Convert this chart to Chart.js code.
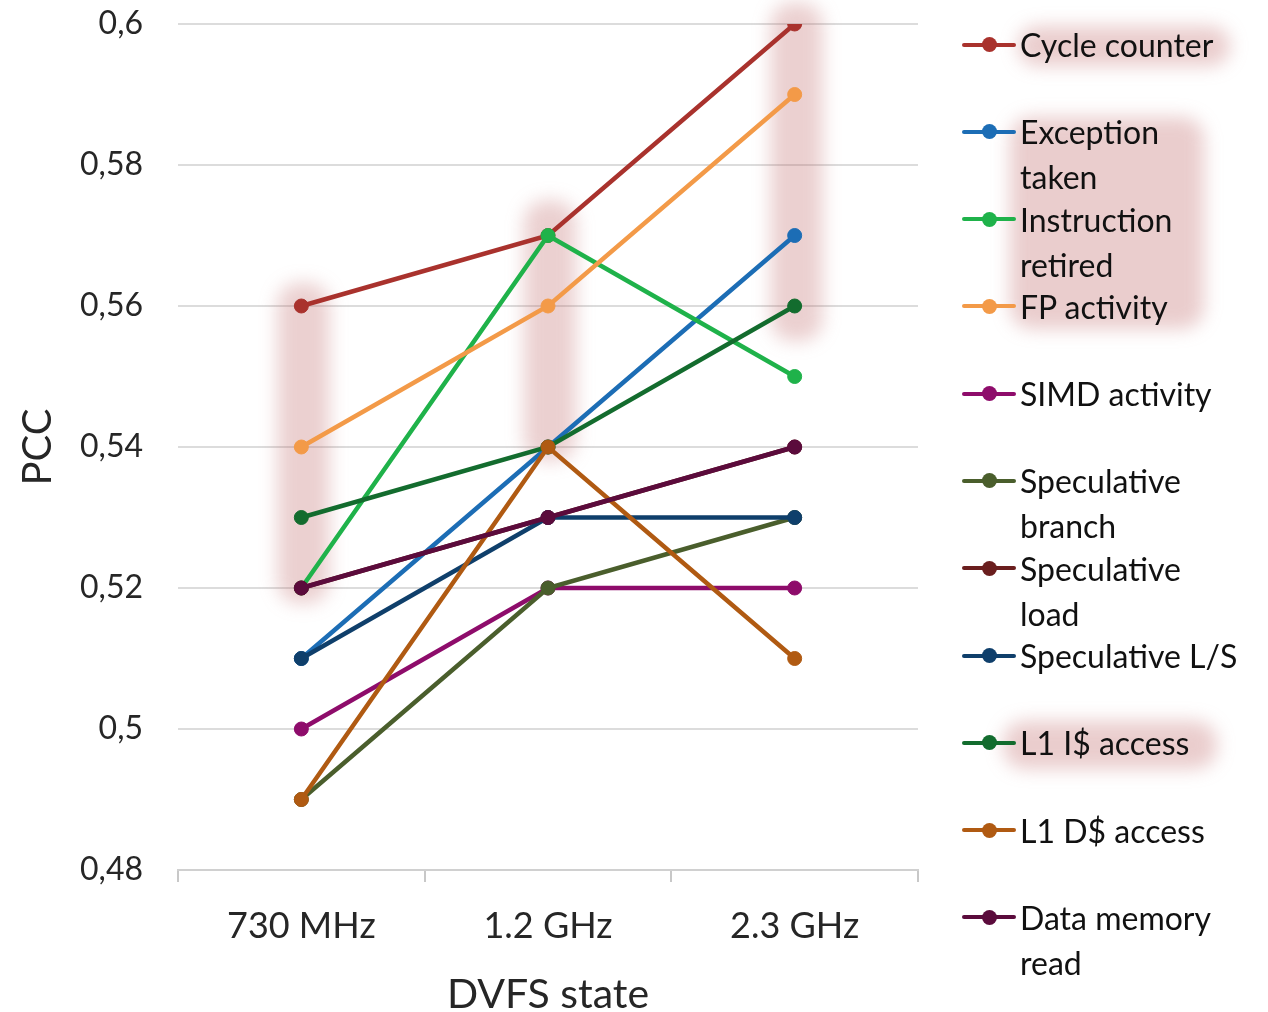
<!DOCTYPE html>
<html lang="en">
<head>
    <meta charset="UTF-8">
    <title>PCC per DVFS state</title>
    <style>
        body {
            margin: 0;
            background: #ffffff;
            font-family: Lato, "Open Sans", sans-serif;
        }

        .wrap {
            position: relative;
            width: 1268px;
            height: 1012px;
        }

        #chart {
            position: absolute;
            left: 0;
            top: 0;
        }

        .glow {
            position: absolute;
            background: rgba(190, 100, 100, 0.32);
            border-radius: 22px;
            filter: blur(9px);
        }

        .legend {
            position: absolute;
            left: 960px;
            top: 22px;
            width: 300px;
        }

        .legend .item {
            position: relative;
            height: 87.3px;
        }

        .legend .swatch {
            position: absolute;
            left: 2px;
            top: 20.5px;
            width: 54px;
            height: 4px;
            border-radius: 2px;
        }

        .legend .dot {
            position: absolute;
            left: 20px;
            top: -5.5px;
            width: 15px;
            height: 15px;
            border-radius: 50%;
        }

        .legend .label {
            position: absolute;
            left: 60px;
            top: 0;
            font-size: 32px;
            line-height: 45px;
            color: #111;
            white-space: pre-line;
        }
    </style>
    <script src="https://cdn.jsdelivr.net/npm/chart.js"></script>
</head>
<body>
    <div class="wrap">
        <canvas id="chart" width="1268" height="1012"></canvas>
        <div class="glow" style="left:1018px; top:26px; width:212px; height:40px;"></div>
        <div class="glow" style="left:1010px; top:117px; width:194px; height:212px;"></div>
        <div class="glow" style="left:1003px; top:721px; width:214px; height:48px;"></div>
        <div class="legend" id="legend"></div>
    </div>

    <script>
        const states = ['730 MHz', '1.2 GHz', '2.3 GHz'];

        const seriesNames = [
            'Cycle counter',
            'Exception\ntaken',
            'Instruction\nretired',
            'FP activity',
            'SIMD activity',
            'Speculative\nbranch',
            'Speculative\nload',
            'Speculative L/S',
            'L1 I$ access',
            'L1 D$ access',
            'Data memory\nread'
        ];

        const seriesColors = [
            '#a9322d', '#1c6db5', '#1fb24a', '#f39a48', '#8e0c6b', '#4a5e2c',
            '#6a1e1e', '#0f3f6b', '#136c2e', '#b05a12', '#5b0b3c'
        ];

        const cycleCounter = [0.56, 0.57, 0.60];
        const exceptionTaken = [0.51, 0.54, 0.57];
        const instructionRetired = [0.52, 0.57, 0.55];
        const fpActivity = [0.54, 0.56, 0.59];
        const simdActivity = [0.50, 0.52, 0.52];
        const specBranch = [0.49, 0.52, 0.53];
        const specLoad = [0.52, 0.53, 0.54];
        const specLS = [0.51, 0.53, 0.53];
        const l1iAccess = [0.53, 0.54, 0.56];
        const l1dAccess = [0.49, 0.54, 0.51];
        const dataMemRead = [0.52, 0.53, 0.54];

        const seriesValues = [
            cycleCounter, exceptionTaken, instructionRetired, fpActivity, simdActivity,
            specBranch, specLoad, specLS, l1iAccess, l1dAccess, dataMemRead
        ];

        // highlighted value ranges per state: [top, bottom]
        const highlightRanges = [
            [0.5633, 0.5178],
            [0.5750, 0.5380],
            [0.6030, 0.5550]
        ];

        const yTicks = [0.48, 0.50, 0.52, 0.54, 0.56, 0.58, 0.60];

        const highlightPlugin = {
            id: 'highlight',
            beforeDatasetsDraw(chart) {
                const ctx = chart.ctx;
                const x = chart.scales.x;
                const y = chart.scales.y;
                ctx.save();
                ctx.filter = 'blur(9px)';
                ctx.fillStyle = 'rgba(190, 100, 100, 0.3)';
                highlightRanges.forEach((r, i) => {
                    const cx = x.getPixelForValue(i);
                    const top = y.getPixelForValue(r[0]);
                    const bottom = y.getPixelForValue(r[1]);
                    ctx.beginPath();
                    ctx.roundRect(cx - 24, top, 52, bottom - top, 22);
                    ctx.fill();
                });
                ctx.restore();
            }
        };

        const n = seriesNames.length;
        const datasets = seriesNames.map((name, i) => ({
            label: name.replace('\n', ' '),
            data: seriesValues[i],
            borderColor: seriesColors[i],
            backgroundColor: seriesColors[i],
            pointBackgroundColor: seriesColors[i],
            pointBorderColor: seriesColors[i],
            borderWidth: 4.5,
            pointRadius: 7,
            pointBorderWidth: 1,
            tension: 0,
            order: n - i
        }));

        const ctx = document.getElementById('chart').getContext('2d');
        const chart = new Chart(ctx, {
            type: 'line',
            data: {
                labels: states,
                datasets: datasets
            },
            plugins: [highlightPlugin],
            options: {
                responsive: false,
                animation: false,
                layout: {
                    padding: { top: 24, right: 350, left: 0, bottom: 0 }
                },
                plugins: {
                    legend: { display: false },
                    tooltip: { enabled: false }
                },
                scales: {
                    x: {
                        offset: true,
                        afterFit: s => { s.height = 142; s.paddingLeft = 0; s.paddingRight = 0; },
                        grid: {
                            offset: true,
                            drawOnChartArea: false,
                            tickLength: 12,
                            color: '#c8c8c8',
                            lineWidth: 2
                        },
                        border: { display: true, color: '#d0d0d0', width: 2 },
                        ticks: {
                            padding: 23,
                            color: '#262626',
                            font: { family: 'Lato', size: 36 }
                        },
                        title: {
                            display: true,
                            text: 'DVFS state',
                            color: '#262626',
                            font: { family: 'Lato', size: 41, lineHeight: 1 },
                            padding: { top: 0, bottom: -3 }
                        }
                    },
                    y: {
                        min: 0.48,
                        max: 0.6,
                        afterFit: s => { s.width = 178; s.paddingTop = 0; s.paddingBottom = 0; },
                        afterBuildTicks: s => { s.ticks = yTicks.map(v => ({ value: v })); },
                        grid: {
                            drawTicks: false,
                            color: '#dcdcdc',
                            lineWidth: 2
                        },
                        border: { display: false },
                        ticks: {
                            padding: 35,
                            color: '#262626',
                            font: { family: 'Lato', size: 32 },
                            callback: v => String(Number(v.toFixed(2))).replace('.', ',')
                        },
                        title: {
                            display: true,
                            text: 'PCC',
                            color: '#262626',
                            font: { family: 'Lato', size: 40, lineHeight: 1 },
                            padding: { top: 18, bottom: 0 }
                        }
                    }
                }
            }
        });

        const legend = document.getElementById('legend');
        seriesNames.forEach((name, i) => {
            const item = document.createElement('div');
            item.className = 'item';
            item.innerHTML =
                '<div class="swatch" style="background:' + seriesColors[i] + '">' +
                '<div class="dot" style="background:' + seriesColors[i] + '"></div></div>' +
                '<div class="label"></div>';
            item.querySelector('.label').textContent = name;
            legend.appendChild(item);
        });
    </script>
</body>
</html>
